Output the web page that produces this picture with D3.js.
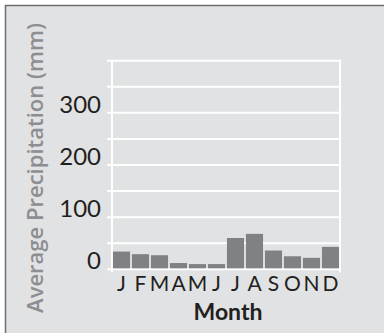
<!DOCTYPE html>
<html>
<head>
<meta charset="utf-8">
<script src="https://cdn.jsdelivr.net/npm/d3@7"></script>
<style>
  html, body { margin: 0; padding: 0; background: #ffffff; }
  svg { display: block; }
</style>
</head>
<body>
<svg id="chart" width="384" height="333"></svg>
<script>
// Monthly average precipitation (mm)
const months = ["J", "F", "M", "A", "M", "J", "J", "A", "S", "O", "N", "D"];
const precipitation = [34, 29, 27, 12, 10, 10, 60, 68, 36, 25, 22, 43];
const gridValues = [0, 50, 100, 150, 200, 250, 300, 350, 400];
const labelValues = [0, 100, 200, 300];

const svg = d3.select("#chart");
const W = 384, H = 333;

// panel background with frame
svg.append("rect").attr("x", 0).attr("y", 0).attr("width", W).attr("height", H).attr("fill", "#ffffff");
svg.append("rect").attr("x", 5.5).attr("y", 5.5).attr("width", W + 10).attr("height", H + 10)
  .attr("fill", "#e1e2e4").attr("stroke", "#6d6e71").attr("stroke-width", 1.5);

const plot = { left: 112, right: 340, top: 60.7, bottom: 269.3 };

const x = d3.scaleBand()
  .domain(d3.range(months.length))
  .range([plot.left, plot.right])
  .paddingInner(0.1)
  .paddingOuter(0.05);

const y = d3.scaleLinear().domain([0, 400]).range([plot.bottom, plot.top]);

const font = "Lato, 'Noto Sans', sans-serif";

// horizontal grid lines with tick stubs on the left
svg.append("g").selectAll("line").data(gridValues).join("line")
  .attr("x1", plot.left - 5).attr("x2", plot.right + 1)
  .attr("y1", d => y(d)).attr("y2", d => y(d))
  .attr("stroke", "#ffffff").attr("stroke-width", 2);

// vertical frame lines of the plot
[plot.left, plot.right].forEach(px => {
  svg.append("line")
    .attr("x1", px).attr("x2", px)
    .attr("y1", y(400) - 1).attr("y2", y(0) + 3)
    .attr("stroke", "#ffffff").attr("stroke-width", 2);
});

// bars
svg.append("g").selectAll("rect").data(precipitation).join("rect")
  .attr("x", (d, i) => x(i))
  .attr("width", x.bandwidth())
  .attr("y", d => y(d))
  .attr("height", d => y(0) - y(d) - 1)
  .attr("fill", "#808184");

// y tick labels
svg.append("g").selectAll("text").data(labelValues).join("text")
  .attr("x", plot.left - 11)
  .attr("y", d => y(d))
  .attr("text-anchor", "end")
  .attr("font-family", font)
  .attr("font-size", 24)
  .attr("fill", "#231f20")
  .text(d => d);

// month labels
svg.append("g").selectAll("text").data(months).join("text")
  .attr("x", (d, i) => x(i) + x.bandwidth() / 2)
  .attr("y", 291)
  .attr("text-anchor", "middle")
  .attr("font-family", font)
  .attr("font-size", 21)
  .attr("fill", "#231f20")
  .text(d => d);

// x axis title
svg.append("text")
  .attr("x", 228).attr("y", 320)
  .attr("text-anchor", "middle")
  .attr("font-family", font)
  .attr("font-weight", "bold")
  .attr("font-size", 23)
  .attr("fill", "#231f20")
  .text("Month");

// y axis title
svg.append("text")
  .attr("transform", "translate(43,168) rotate(-90)")
  .attr("text-anchor", "middle")
  .attr("font-family", "'Open Sans', 'Noto Sans', sans-serif")
  .attr("font-weight", "600")
  .attr("font-size", 22)
  .attr("fill", "#8d8e91")
  .text("Average Precipitation (mm)");
</script>
</body>
</html>
